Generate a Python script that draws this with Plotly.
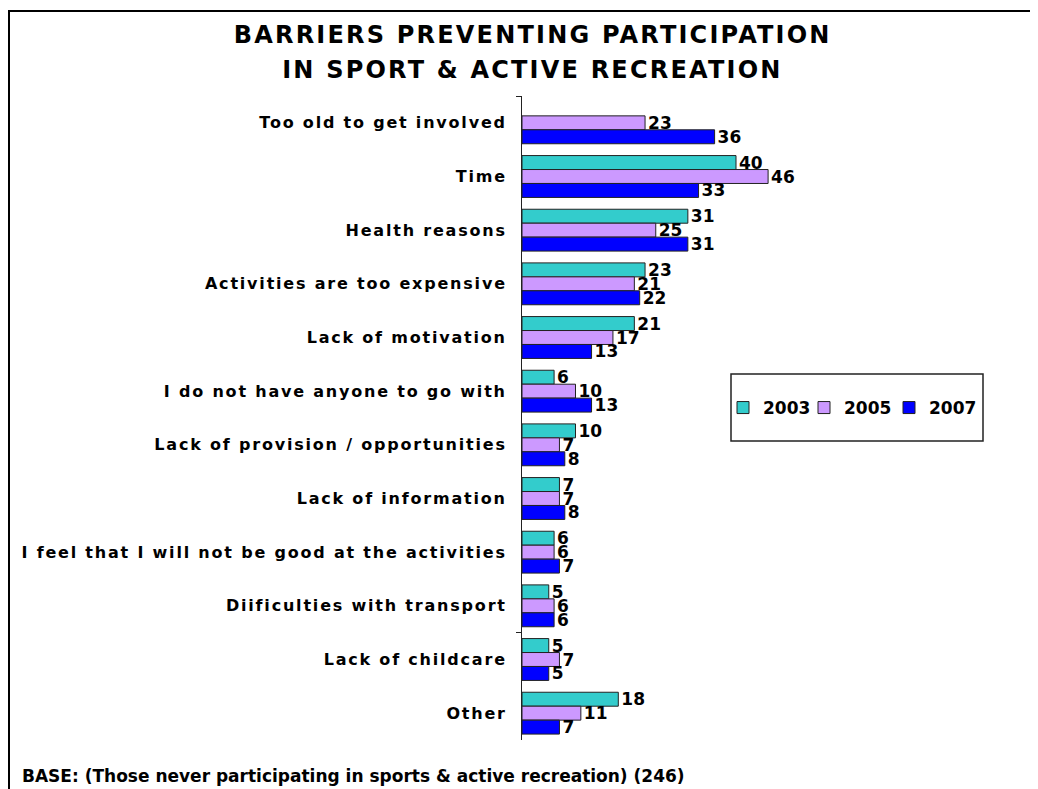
import plotly.graph_objects as go

categories = [
    "Too old to get involved",
    "Time",
    "Health reasons",
    "Activities are too expensive",
    "Lack of motivation",
    "I do not have anyone to go with",
    "Lack of provision / opportunities",
    "Lack of information",
    "I feel that I will not be good at the activities",
    "Diificulties with transport",
    "Lack of childcare",
    "Other",
]
v2003 = [None, 40, 31, 23, 21, 6, 10, 7, 6, 5, 5, 18]
v2005 = [23, 46, 25, 21, 17, 10, 7, 7, 6, 6, 7, 11]
v2007 = [36, 33, 31, 22, 13, 13, 8, 8, 7, 6, 5, 7]
series_names = ["2003", "2005", "2007"]
colors = ["#33CCCC", "#CC99FF", "#0000FF"]

title_lines = ["BARRIERS PREVENTING PARTICIPATION", "IN SPORT & ACTIVE RECREATION"]
footer = "BASE: (Those never participating in sports & active recreation) (246)"

# page body has an 8px margin; work in window pixels and shift
OFF = 8
W, H = 1038 - OFF, 789 - OFF
L, T = 522 - OFF, 96 - OFF
PW = 478
PH = 740 - 96
R = W - L - PW
B = H - T - PH
FONT = "DejaVu Sans"

def px(x):
    return (x - OFF - L) / PW

def py(y):
    return (T + PH - (y - OFF)) / PH

legend_ids = ["legend", "legend2", "legend3"]
legend_x = [723, 804, 889]

fig = go.Figure()
for name, vals, col, lid in zip(series_names, [v2003, v2005, v2007], colors, legend_ids):
    fig.add_trace(go.Bar(
        y=categories, x=vals, name=name, orientation="h", legend=lid,
        marker=dict(color=col, line=dict(color="#222222", width=1)),
        text=[("" if v is None else str(v)) for v in vals],
        textposition="outside", cliponaxis=False, constraintext="none",
        textfont=dict(family=FONT, size=17, color="black", weight="bold"),
    ))

fig.add_trace(go.Scatter(x=[None], y=[None], yaxis="y2", showlegend=False, hoverinfo="skip"))

legend_style = dict(
    orientation="h", yanchor="middle", xanchor="left",
    bgcolor="rgba(0,0,0,0)", borderwidth=0,
    font=dict(family=FONT, size=17, color="black", weight="bold"),
    itemwidth=30,
)

fig.update_layout(
    width=W, height=H,
    margin=dict(l=L, r=R, t=T, b=B),
    paper_bgcolor="white", plot_bgcolor="white",
    barmode="group", bargap=0.22, bargroupgap=0,
    font=dict(family=FONT, color="black"),
    xaxis=dict(range=[0, PW / 5.35], visible=False, showgrid=False, zeroline=False),
    yaxis=dict(
        type="category", categoryorder="array", categoryarray=categories,
        autorange="reversed", showline=True, linecolor="#222222", linewidth=1,
        ticks="", showgrid=False, ticklabelstandoff=11,
        tickfont=dict(family=FONT, size=16, color="black", weight="bold"),
    ),
    yaxis2=dict(
        overlaying="y", range=[len(categories) - 0.5, -0.5],
        tickvals=[-0.5, 9.5], ticks="outside", ticklen=5, tickcolor="#222222",
        showticklabels=False, showgrid=False, zeroline=False, showline=False,
    ),
    showlegend=True,
)
for lid, lx in zip(legend_ids, legend_x):
    fig.update_layout({lid: dict(legend_style, x=px(lx), y=py(408))})

shapes = [
    dict(type="rect", xref="paper", yref="paper", x0=px(731), x1=px(983), y0=py(441), y1=py(374),
         line=dict(color="#222222", width=1.5), fillcolor="rgba(0,0,0,0)"),
    dict(type="line", xref="paper", yref="paper", x0=px(8), x1=px(1045), y0=py(11), y1=py(11),
         line=dict(color="black", width=2)),
    dict(type="line", xref="paper", yref="paper", x0=px(9), x1=px(9), y0=py(10), y1=py(795),
         line=dict(color="black", width=2)),
]
fig.update_layout(shapes=shapes)

ann = []
for i, line in enumerate(title_lines):
    ann.append(dict(text=line, xref="paper", yref="paper", x=px(532), y=py(35 + 35 * i),
                    xanchor="center", yanchor="middle", showarrow=False,
                    font=dict(family=FONT, size=24, color="black", weight="bold")))
ann.append(dict(text=footer, xref="paper", yref="paper", x=px(20), y=py(776),
                xanchor="left", yanchor="middle", showarrow=False,
                font=dict(family=FONT, size=17, color="black", weight="bold")))
fig.update_layout(annotations=ann)

post_script = """
var gd = document.getElementById('{plot_id}');
function spacing() {
  gd.querySelectorAll('.ytick text').forEach(function (t) { t.style.letterSpacing = '1.8px'; });
  gd.querySelectorAll('.annotation-text').forEach(function (t) {
    if (t.textContent.indexOf('BASE') !== 0) { t.style.letterSpacing = '2.2px'; }
  });
}
spacing();
gd.on('plotly_afterplot', spacing);
"""

fig.write_html("out.html", post_script=post_script)
